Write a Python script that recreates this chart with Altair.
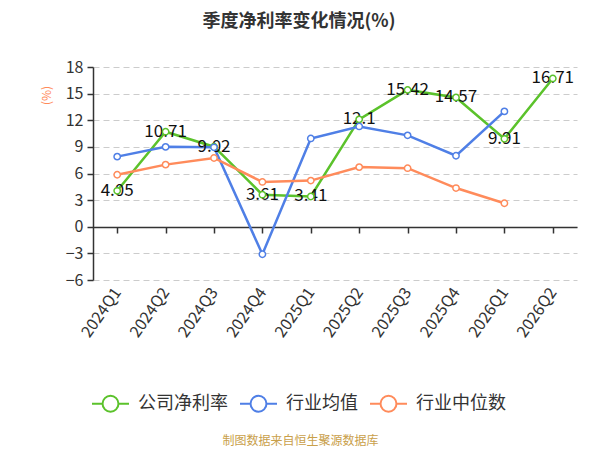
import altair as alt
import pandas as pd

quarters = ["2024Q1", "2024Q2", "2024Q3", "2024Q4", "2025Q1", "2025Q2",
            "2025Q3", "2025Q4", "2026Q1", "2026Q2"]
company = [4.05, 10.71, 9.02, 3.61, 3.41, 12.1, 15.42, 14.57, 9.91, 16.71]
company_labels = ["4.05", "10.71", "9.02", "3.61", "3.41", "12.1", "15.42", "14.57", "9.91", "16.71"]
industry_mean = [7.9, 9.0, 8.95, -3.1, 9.95, 11.3, 10.3, 8.0, 13.0]
industry_median = [5.86, 7.0, 7.75, 5.05, 5.2, 6.72, 6.6, 4.36, 2.65]
series_names = ["公司净利率", "行业均值", "行业中位数"]
series_colors = ["#5bc22b", "#4f7fe6", "#ff8b5b"]
y_ticks = [-6, -3, 0, 3, 6, 9, 12, 15, 18]

rows = []
for q, v, lab in zip(quarters, company, company_labels):
    rows.append({"q": q, "v": v, "s": series_names[0], "lab": lab})
for q, v in zip(quarters, industry_mean):
    rows.append({"q": q, "v": v, "s": series_names[1], "lab": ""})
for q, v in zip(quarters, industry_median):
    rows.append({"q": q, "v": v, "s": series_names[2], "lab": ""})
df = pd.DataFrame(rows)

W, H = 484, 213

x_enc = alt.X(
    "q:N", sort=quarters,
    scale=alt.Scale(domain=quarters, paddingInner=0, paddingOuter=0),
    axis=alt.Axis(
        orient="bottom", offset=-53, bandPosition=0,
        domainColor="#333333", domainWidth=1.5, tickColor="#333333", tickWidth=1.5,
        tickSize=6, labelAngle=-55, labelAlign="right", labelBaseline="middle",
        labelPadding=56, labelFontSize=16, labelColor="#333333",
        labelFont="Noto Sans CJK SC",
        title="制图数据来自恒生聚源数据库", titleColor="#c9a04a", titleFontSize=12,
        titleFontWeight="normal", titleFont="Noto Sans CJK SC",
        titleX=207, titleY=213, titleAlign="center", titleBaseline="middle",
        grid=False,
    ),
)
y_enc = alt.Y(
    "v:Q",
    scale=alt.Scale(domain=[-6, 18], nice=False, zero=False),
    axis=alt.Axis(
        values=y_ticks, domainColor="#333333", domainWidth=1.5, tickColor="#333333",
        tickWidth=1.5, tickSize=6, labelFontSize=16, labelColor="#333333",
        labelFont="Noto Sans CJK SC", labelPadding=4,
        gridColor="#cccccc", gridDash=[6, 4], gridWidth=1,
        title="(%)", titleColor="#ff8b5b", titleFontSize=12, titleFontWeight="normal",
        titleFont="Noto Sans CJK SC", titleX=-47, titleY=28,
        titleAlign="center", titleBaseline="middle", titleAngle=-90,
    ),
)

color = alt.Color(
    "s:N",
    scale=alt.Scale(domain=series_names, range=series_colors),
    legend=alt.Legend(
        orient="none", legendX=-2, legendY=317, direction="horizontal", title=None,
        symbolType="M-1,0L-0.43,0M0.43,0L1,0M-0.43,0A0.43,0.43,0,1,1,0.43,0A0.43,0.43,0,1,1,-0.43,0",
        symbolSize=1369, symbolStrokeWidth=2, symbolFillColor="white",
        labelFontSize=18, labelColor="#333333", labelFont="Noto Sans CJK SC",
        labelOffset=8, columnPadding=8,
    ),
)

base = alt.Chart(df).encode(x=x_enc, y=y_enc)

lines = base.mark_line(strokeWidth=2.5).encode(color=color)
points = base.mark_point(filled=False, fill="white", size=40, strokeWidth=1.5, opacity=1).encode(
    stroke=alt.Stroke("s:N", scale=alt.Scale(domain=series_names, range=series_colors), legend=None)
)
labels = base.transform_filter(alt.datum.s == series_names[0]).mark_text(
    fontSize=17, color="#111111", align="center", baseline="middle", font="Noto Sans CJK SC"
).encode(text="lab:N")

chart = alt.layer(lines, labels, points).properties(
    width=W, height=H,
    autosize=alt.AutoSizeParams(type="none"),
    padding={"left": 85, "top": 59, "right": 15, "bottom": 167},
    title=alt.Title(
        "季度净利率变化情况(%)", fontSize=18, fontWeight="bold", color="#333333",
        font="Noto Sans CJK SC", anchor="middle", dx=-36, offset=28,
    ),
).configure_view(stroke=None)

chart.save("out.html", embed_options={"renderer": "svg", "actions": False})
